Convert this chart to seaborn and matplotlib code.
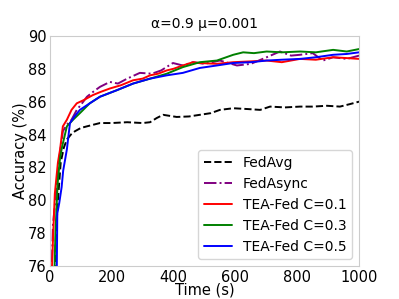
import matplotlib
matplotlib.use("Agg")
import matplotlib.pyplot as plt
import pandas as pd
import seaborn as sns

# values
fedavg_t = [14, 20, 26, 35, 45, 55, 68, 81, 100, 120, 162, 200, 250, 300, 324, 345, 366, 410, 450, 485,
            520, 550, 593, 640, 680, 712, 760, 809, 850, 896, 938, 970, 1000]
fedavg_acc = [75.0, 78.0, 80.0, 82.3, 83.2, 83.7, 84.0, 84.2, 84.4, 84.5, 84.7, 84.7, 84.75, 84.7, 84.75, 85.0, 85.2,
              85.07, 85.1, 85.2, 85.3, 85.5, 85.6, 85.55, 85.5, 85.7, 85.65, 85.7, 85.7, 85.75, 85.7, 85.85, 86.0]

fedasync_t = [5, 10, 20, 30, 42, 55, 70, 87, 100, 120, 140, 162, 194, 220, 250, 291, 330, 360, 398, 430, 463,
              500, 550, 605, 650, 701, 744, 780, 809, 850, 883, 916, 960, 1000]
fedasync_acc = [75.0, 78.5, 80.5, 82.5, 84.2, 84.6, 84.9, 85.5, 85.8, 86.3, 86.6, 86.9, 87.2, 87.1, 87.4, 87.75,
                87.7, 87.9, 88.35, 88.2, 88.4, 88.3, 88.5, 88.2, 88.3, 88.7, 89.05, 88.8, 88.85, 88.95, 88.5,
                88.7, 88.6, 88.8]

c01_t = [5, 10, 16, 26, 33, 42, 55, 70, 87, 110, 139, 165, 194, 230, 269, 300, 324, 350, 378, 400, 430, 463,
         485, 540, 593, 650, 701, 750, 809, 860, 916, 960, 1000]
c01_acc = [75.0, 77.6, 80.4, 82.3, 83.1, 84.5, 84.9, 85.5, 85.9, 86.1, 86.4, 86.6, 86.8, 87.0, 87.3, 87.4, 87.6,
           87.7, 87.9, 88.0, 88.2, 88.4, 88.35, 88.3, 88.4, 88.45, 88.5, 88.4, 88.6, 88.55, 88.7, 88.65, 88.6]

c03_t = [14, 18, 25, 33, 40, 55, 75, 97, 129, 162, 217, 269, 324, 378, 430, 485, 540, 593, 625, 660, 701,
         750, 809, 860, 916, 960, 1000]
c03_acc = [75.0, 78.0, 81.0, 82.6, 83.3, 84.5, 84.9, 85.3, 85.9, 86.3, 86.7, 87.1, 87.4, 87.7, 88.1, 88.4, 88.5,
           88.85, 89.0, 88.95, 89.05, 89.0, 89.05, 89.0, 89.15, 89.05, 89.2]

c05_t = [22, 24, 30, 38, 43, 55, 65, 80, 97, 129, 162, 217, 269, 324, 378, 430, 485, 540, 593, 650, 701,
         750, 809, 860, 916, 960, 1000]
c05_acc = [75.0, 79.2, 79.8, 80.8, 81.8, 83.1, 84.7, 85.1, 85.5, 85.9, 86.3, 86.7, 87.1, 87.4, 87.6, 87.75,
           88.05, 88.2, 88.35, 88.4, 88.5, 88.55, 88.6, 88.7, 88.85, 88.9, 89.0]

series = [
    ("FedAvg", fedavg_t, fedavg_acc),
    ("FedAsync", fedasync_t, fedasync_acc),
    ("TEA-Fed C=0.1", c01_t, c01_acc),
    ("TEA-Fed C=0.3", c03_t, c03_acc),
    ("TEA-Fed C=0.5", c05_t, c05_acc),
]

rows = []
for name, ts, accs in series:
    for t, a in zip(ts, accs):
        rows.append({"method": name, "time": t, "acc": a})
df = pd.DataFrame(rows)

sns.set_style("whitegrid", {"axes.grid": False, "text.color": "black",
                            "axes.labelcolor": "black", "xtick.color": "black",
                            "ytick.color": "black"})
plt.rcParams["font.family"] = ["DejaVu Sans"]

palette = {"FedAvg": "black", "FedAsync": "purple", "TEA-Fed C=0.1": "red",
           "TEA-Fed C=0.3": "green", "TEA-Fed C=0.5": "blue"}
styles = {"FedAvg": "--", "FedAsync": "-.", "TEA-Fed C=0.1": "-",
          "TEA-Fed C=0.3": "-", "TEA-Fed C=0.5": "-"}

fig, ax = plt.subplots(figsize=(3.99, 2.99), dpi=100)
for name, _, _ in series:
    sub = df[df["method"] == name]
    sns.lineplot(data=sub, x="time", y="acc", ax=ax, color=palette[name],
                 linestyle=styles[name], linewidth=1.4, label=name, estimator=None)

ax.set_xlim(0, 1000)
ax.set_ylim(76, 90)
ax.set_xticks([0, 200, 400, 600, 800, 1000])
ax.set_yticks([76, 78, 80, 82, 84, 86, 88, 90])
ax.tick_params(labelsize=10.5, pad=0.5, length=2, color="#cccccc", direction="out")
ax.set_xlabel("Time (s)", fontsize=10.5, labelpad=-1.5)
ax.set_ylabel("Accuracy (%)", fontsize=10.5, labelpad=0)
ax.set_title("α=0.9 μ=0.001", fontsize=10, pad=6)
ax.legend(loc="lower right", fontsize=10)

fig.savefig("out.png", dpi=100)
